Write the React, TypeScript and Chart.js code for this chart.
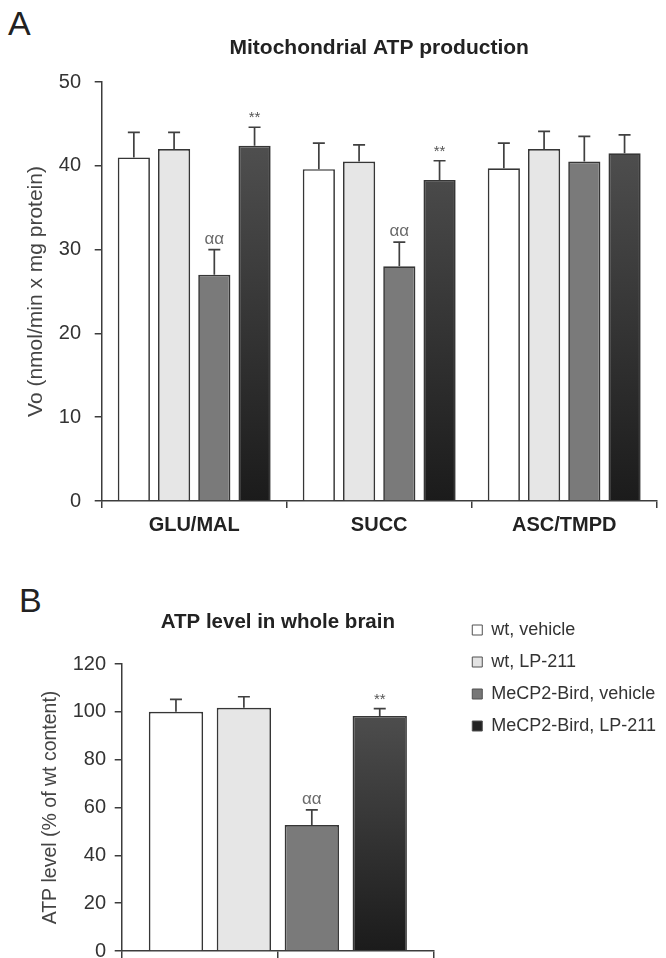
import React, { useEffect, useRef } from 'react';
import { Chart, registerables } from 'chart.js';

Chart.register(...registerables);

// ---------- data ----------
const seriesNames = ['wt, vehicle', 'wt, LP-211', 'MeCP2-Bird, vehicle', 'MeCP2-Bird, LP-211'];

// Panel A: mitochondrial ATP production
const substratesA = ['GLU/MAL', 'SUCC', 'ASC/TMPD'];
const wtVehicleA = [41.0, 39.6, 39.7];
const wtLP211A = [42.0, 40.5, 42.0];
const mecpVehicleA = [27.0, 28.0, 40.5];
const mecpLP211A = [42.4, 38.3, 41.5];
const wtVehicleErrA = [3.0, 3.1, 3.0];
const wtLP211ErrA = [2.0, 2.0, 2.1];
const mecpVehicleErrA = [3.0, 2.9, 3.0];
const mecpLP211ErrA = [2.2, 2.3, 2.2];
const mecpVehicleMarksA = ['αα', 'αα', ''];
const mecpLP211MarksA = ['**', '**', ''];
const yTicksA = [0, 10, 20, 30, 40, 50];

// Panel B: ATP level in whole brain
const groupB = [''];
const xTickSlotsB = ['', ''];
const wtVehicleB = [100.0];
const wtLP211B = [101.7];
const mecpVehicleB = [52.7];
const mecpLP211B = [98.3];
const wtVehicleErrB = [5.2];
const wtLP211ErrB = [4.6];
const mecpVehicleErrB = [6.3];
const mecpLP211ErrB = [3.0];
const mecpVehicleMarksB = ['αα'];
const mecpLP211MarksB = ['**'];
const yTicksB = [0, 20, 40, 60, 80, 100, 120];

// ---------- styles ----------
const FONT = "'Liberation Sans', Arial, Helvetica, sans-serif";
const AXIS = '#3c3c3c';
const TEXT = '#333333';
const legendFills = ['#ffffff', '#e3e3e3', '#777777', '#222222'];

const darkFill = (c: any) => {
  const chart = c.chart;
  const area = chart.chartArea;
  if (!area) return '#2a2a2a';
  const g = chart.ctx.createLinearGradient(0, area.top, 0, area.bottom);
  g.addColorStop(0, '#585858');
  g.addColorStop(1, '#1b1b1b');
  return g;
};
const fills: any[] = ['#ffffff', '#e6e6e6', '#7a7a7a', darkFill];

const errorBarPlugin = {
  id: 'errorBars',
  afterDatasetsDraw(chart: any) {
    const ctx = chart.ctx;
    const yScale = chart.scales.y;
    chart.data.datasets.forEach((ds: any, i: number) => {
      const meta = chart.getDatasetMeta(i);
      if (meta.hidden) return;
      meta.data.forEach((el: any, j: number) => {
        const v = ds.data[j];
        if (v == null) return;
        const e = ds.errors ? ds.errors[j] : 0;
        const yTop = yScale.getPixelForValue(v + e);
        ctx.save();
        ctx.strokeStyle = '#404040';
        ctx.lineWidth = 1.7;
        ctx.beginPath();
        ctx.moveTo(el.x, el.y);
        ctx.lineTo(el.x, yTop);
        ctx.moveTo(el.x - 6, yTop);
        ctx.lineTo(el.x + 6, yTop);
        ctx.stroke();
        const mark = ds.marks ? ds.marks[j] : '';
        if (mark) {
          ctx.textAlign = 'center';
          ctx.textBaseline = 'alphabetic';
          if (mark === '**') {
            ctx.font = `15px ${FONT}`;
            ctx.fillStyle = '#555555';
            ctx.fillText(mark, el.x, yTop - 5);
          } else {
            ctx.font = `17px ${FONT}`;
            ctx.fillStyle = '#6a6a6a';
            ctx.fillText(mark, el.x, yTop - 6);
          }
        }
        ctx.restore();
      });
    });
  },
};

const makeDatasets = (values: number[][], errs: number[][], marks: string[][], xAxisID?: string) =>
  values.map((vals, i) => ({
    label: seriesNames[i],
    data: vals,
    errors: errs[i],
    marks: marks[i],
    backgroundColor: fills[i],
    borderColor: '#363636',
    borderWidth: 1.7,
    categoryPercentage: 0.87,
    barPercentage: 0.8,
    ...(xAxisID ? { xAxisID } : {}),
  }));

function PanelA() {
  const ref = useRef<HTMLCanvasElement>(null);
  useEffect(() => {
    if (!ref.current) return;
    const chart = new Chart(ref.current, {
      type: 'bar',
      data: {
        labels: substratesA,
        datasets: makeDatasets(
          [wtVehicleA, wtLP211A, mecpVehicleA, mecpLP211A],
          [wtVehicleErrA, wtLP211ErrA, mecpVehicleErrA, mecpLP211ErrA],
          [[], [], mecpVehicleMarksA, mecpLP211MarksA]
        ) as any,
      },
      options: {
        animation: false,
        responsive: true,
        maintainAspectRatio: false,
        layout: { padding: { left: 0, right: 9.3, top: 0, bottom: 0 } },
        plugins: {
          legend: { display: false },
          tooltip: { enabled: false },
          title: {
            display: true,
            fullSize: false,
            text: 'Mitochondrial ATP production',
            color: '#222222',
            font: { size: 21, weight: 'bold', family: FONT },
            padding: { top: 35.4, bottom: 21.4 },
          },
        },
        scales: {
          x: {
            type: 'category',
            offset: true,
            grid: { display: true, drawOnChartArea: false, offset: true, tickLength: 7, color: AXIS, lineWidth: 1.5 },
            border: { display: true, color: AXIS, width: 1.5 },
            ticks: { color: '#222222', padding: 5, font: { size: 20, weight: 'bold', family: FONT }, maxRotation: 0 },
            afterFit: (s: any) => { s.height = 59; },
          },
          y: {
            min: yTicksA[0],
            max: yTicksA[yTicksA.length - 1],
            ticks: { stepSize: yTicksA[1] - yTicksA[0], color: TEXT, padding: 13.7, font: { size: 20, family: FONT } },
            grid: { display: true, drawOnChartArea: false, tickLength: 7, color: AXIS, lineWidth: 1.5 },
            border: { display: true, color: AXIS, width: 1.5 },
            title: {
              display: true,
              text: 'Vo (nmol/min x mg protein)',
              color: '#444444',
              font: { size: 21, family: FONT },
              padding: { top: 24, bottom: 0 },
            },
            afterFit: (s: any) => { s.width = 101.7; },
          },
        },
      } as any,
      plugins: [errorBarPlugin],
    });
    return () => chart.destroy();
  }, []);
  return (
    <div style={{ position: 'absolute', left: 0, top: 0, width: 666, height: 560 }}>
      <canvas ref={ref} />
    </div>
  );
}

function PanelB() {
  const ref = useRef<HTMLCanvasElement>(null);
  useEffect(() => {
    if (!ref.current) return;
    const chart = new Chart(ref.current, {
      type: 'bar',
      data: {
        labels: groupB,
        datasets: makeDatasets(
          [wtVehicleB, wtLP211B, mecpVehicleB, mecpLP211B],
          [wtVehicleErrB, wtLP211ErrB, mecpVehicleErrB, mecpLP211ErrB],
          [[], [], mecpVehicleMarksB, mecpLP211MarksB],
          'xb'
        ) as any,
      },
      options: {
        animation: false,
        responsive: true,
        maintainAspectRatio: false,
        layout: { padding: 0 },
        plugins: {
          tooltip: { enabled: false },
          legend: {
            display: true,
            position: 'right',
            align: 'start',
            maxWidth: 232,
            labels: {
              boxWidth: 10,
              boxHeight: 10,
              padding: 14,
              color: TEXT,
              font: { size: 18, family: FONT },
              generateLabels: (ch: any) =>
                ch.data.datasets.map((ds: any, i: number) => ({
                  text: ds.label,
                  fillStyle: legendFills[i],
                  strokeStyle: '#505050',
                  lineWidth: 1,
                  fontColor: TEXT,
                  hidden: false,
                  datasetIndex: i,
                })),
            },
          },
          title: {
            display: true,
            fullSize: false,
            text: 'ATP level in whole brain',
            color: '#222222',
            font: { size: 20.5, weight: 'bold', family: FONT },
            padding: { top: 2.7, bottom: 29.7 },
          },
        },
        scales: {
          xb: {
            type: 'category',
            display: false,
            offset: true,
          },
          x: {
            type: 'category',
            labels: xTickSlotsB,
            offset: true,
            position: 'bottom',
            grid: { display: true, drawOnChartArea: false, offset: true, tickLength: 7, color: AXIS, lineWidth: 1.5 },
            border: { display: true, color: AXIS, width: 1.5 },
            ticks: { display: false },
            afterFit: (s: any) => { s.height = 26; },
          },
          y: {
            min: yTicksB[0],
            max: yTicksB[yTicksB.length - 1],
            ticks: { stepSize: yTicksB[1] - yTicksB[0], color: TEXT, padding: 8.7, font: { size: 20, family: FONT } },
            grid: { display: true, drawOnChartArea: false, tickLength: 7, color: AXIS, lineWidth: 1.5 },
            border: { display: true, color: AXIS, width: 1.5 },
            title: {
              display: true,
              text: 'ATP level (% of wt content)',
              color: '#444444',
              font: { size: 19.5, family: FONT },
              padding: { top: 39, bottom: 0 },
            },
            afterFit: (s: any) => { s.width = 121.7; },
          },
          yPad: {
            type: 'linear',
            position: 'right',
            display: true,
            grid: { display: false },
            border: { display: false },
            ticks: { display: false },
            afterFit: (s: any) => {
              const lg = s.chart.legend;
              s.width = Math.max(0, 666 - 434 - (lg ? lg.width : 0));
            },
          },
        },
      } as any,
      plugins: [errorBarPlugin],
    });
    return () => chart.destroy();
  }, []);
  return (
    <div style={{ position: 'absolute', left: 0, top: 607, width: 666, height: 370 }}>
      <canvas ref={ref} />
    </div>
  );
}

export default function App() {
  useEffect(() => {
    document.body.style.margin = '0';
    document.body.style.overflow = 'hidden';
  }, []);
  const letter: React.CSSProperties = {
    position: 'absolute',
    fontFamily: FONT,
    fontSize: 34,
    lineHeight: '34px',
    color: '#222222',
  };
  return (
    <div style={{ position: 'relative', width: 666, height: 958, overflow: 'hidden', background: '#ffffff' }}>
      <div style={{ ...letter, left: 8, top: 5.5 }}>A</div>
      <div style={{ ...letter, left: 19, top: 582.5 }}>B</div>
      <PanelA />
      <PanelB />
    </div>
  );
}
